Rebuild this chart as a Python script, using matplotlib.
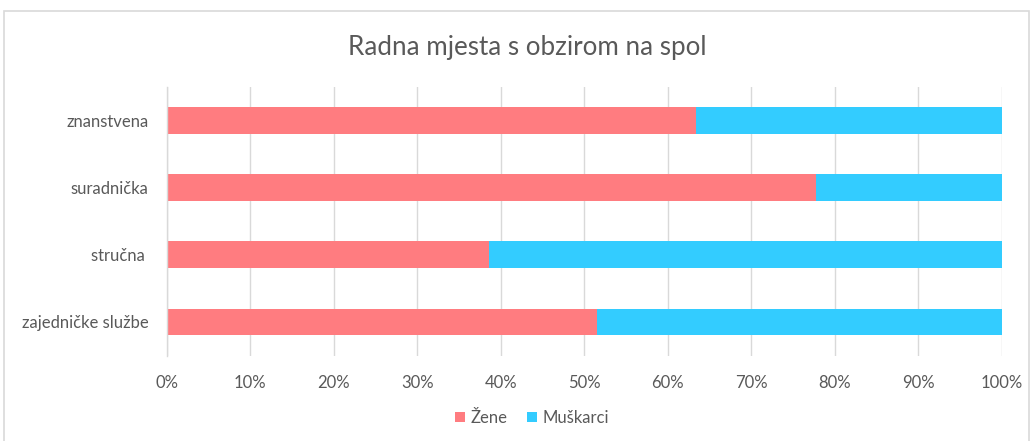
import matplotlib
matplotlib.use("Agg")
import matplotlib.pyplot as plt
from matplotlib.patches import Rectangle
from matplotlib.ticker import PercentFormatter

plt.rcParams['font.family'] = ['Lato', 'DejaVu Sans']

categories = ["znanstvena", "suradnička", "stručna ", "zajedničke službe"]
zene = [63.4, 77.8, 38.6, 51.5]
muskarci = [100 - v for v in zene]
xticks = list(range(0, 101, 10))

c_zene = "#FF7C80"
c_musk = "#33CCFF"
txt = "#595959"
grid = "#D9D9D9"

fig = plt.figure(figsize=(10.32, 4.41), dpi=100)
fig.patches.append(Rectangle((4/1032, -0.1), 1025/1032, 1.1 - 11/441, transform=fig.transFigure,
                             fill=False, edgecolor="#D9D9D9", linewidth=1.2))
ax = fig.add_axes([166.7/1032, 1 - 355.5/441, 835/1032, 268.5/441])

y = list(range(len(categories)))
ax.barh(y, zene, height=0.4, color=c_zene, label="Žene")
ax.barh(y, muskarci, left=zene, height=0.4, color=c_musk, label="Muškarci")
ax.set_ylim(len(categories) - 0.5, -0.5)
ax.set_yticks(y)
ax.set_yticklabels(categories)
ax.set_xlim(0, 100)
ax.set_xticks(xticks)
ax.xaxis.set_major_formatter(PercentFormatter(decimals=0))
ax.grid(axis="x", color=grid, linewidth=1)
ax.set_axisbelow(True)
for s in ["top", "right", "bottom"]:
    ax.spines[s].set_visible(False)
ax.spines["left"].set_color(grid)
ax.spines["left"].set_linewidth(1)
ax.tick_params(axis="both", length=0, labelsize=12, labelcolor=txt)
ax.tick_params(axis="y", pad=13)
ax.tick_params(axis="x", pad=14)

fig.text(527/1032, 1 - 48/441, "Radna mjesta s obzirom na spol", ha="center", va="center",
         fontsize=18.7, color=txt)
fig.legend(loc="center", bbox_to_anchor=(532/1032, 1 - 418/441), ncol=2, frameon=False,
           fontsize=12, labelcolor=txt, handlelength=0.6, handleheight=0.6,
           handletextpad=0.3, columnspacing=1.2)

fig.savefig("out.png", dpi=100)
